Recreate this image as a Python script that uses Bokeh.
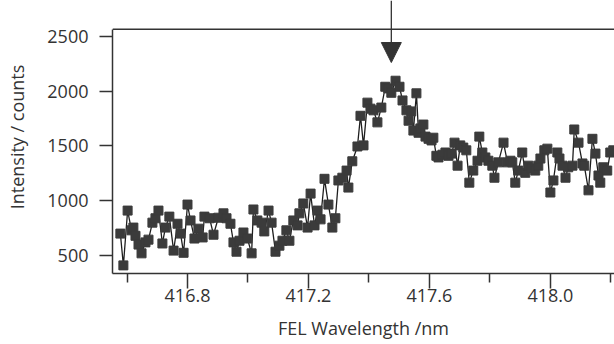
from bokeh.plotting import figure
from bokeh.models import FixedTicker, Span, Arrow, NormalHead, Range1d, ColumnDataSource
from bokeh.embed import file_html
from bokeh.resources import INLINE

# Data
wavelength_nm = [
    416.578, 416.588, 416.602, 416.615, 416.621, 416.628, 416.638, 416.648, 416.661, 416.671,
    416.684, 416.694, 416.704, 416.717, 416.727, 416.740, 416.754, 416.767, 416.777, 416.787,
    416.800, 416.810, 416.823, 416.836, 416.850, 416.856, 416.873, 416.886, 416.902, 416.919,
    416.929, 416.942, 416.952, 416.962, 416.972, 416.985, 416.998, 417.012, 417.018, 417.031,
    417.045, 417.054, 417.068, 417.078, 417.091, 417.104, 417.114, 417.127, 417.137, 417.150,
    417.164, 417.170, 417.183, 417.197, 417.207, 417.220, 417.230, 417.240, 417.253, 417.266,
    417.279, 417.289, 417.299, 417.312, 417.326, 417.332, 417.345, 417.362, 417.372, 417.382,
    417.395, 417.405, 417.415, 417.428, 417.441, 417.454, 417.464, 417.474, 417.488, 417.501,
    417.511, 417.524, 417.531, 417.540, 417.547, 417.557, 417.564, 417.570, 417.580, 417.587,
    417.597, 417.607, 417.613, 417.623, 417.630, 417.643, 417.653, 417.663, 417.673, 417.683,
    417.693, 417.702, 417.712, 417.722, 417.732, 417.745, 417.759, 417.765, 417.775, 417.785,
    417.795, 417.808, 417.815, 417.828, 417.845, 417.858, 417.868, 417.874, 417.884, 417.894,
    417.907, 417.917, 417.927, 417.937, 417.950, 417.960, 417.967, 417.980, 417.990, 418.000,
    418.010, 418.023, 418.030, 418.040, 418.050, 418.059, 418.073, 418.079, 418.093, 418.106,
    418.112, 418.126, 418.139, 418.149, 418.159, 418.165, 418.175, 418.188, 418.198, 418.208,
]
intensity_counts = [
    700, 410, 910, 730, 755, 680, 600, 520, 620, 645,
    800, 840, 910, 610, 755, 855, 545, 790, 700, 525,
    965, 820, 655, 745, 665, 855, 840, 690, 845, 885,
    840, 790, 620, 535, 635, 710, 655, 520, 920, 820,
    800, 720, 910, 800, 535, 590, 635, 730, 635, 820,
    775, 885, 975, 755, 1065, 775, 910, 830, 1200, 965,
    755, 840, 1185, 1210, 1275, 1120, 1360, 1495, 1775, 1505,
    1895, 1840, 1825, 1715, 1850, 2040, 2025, 1985, 2095, 2040,
    1915, 1825, 1730, 1815, 1640, 1980, 1620, 1660, 1695, 1585,
    1565, 1550, 1575, 1410, 1395, 1420, 1440, 1410, 1430, 1530,
    1320, 1505, 1485, 1460, 1165, 1275, 1365, 1585, 1440, 1395,
    1365, 1320, 1210, 1350, 1530, 1350, 1365, 1350, 1165, 1275,
    1440, 1255, 1320, 1295, 1275, 1320, 1385, 1460, 1475, 1075,
    1185, 1440, 1385, 1320, 1210, 1305, 1320, 1650, 1530, 1340,
    1320, 1095, 1565, 1430, 1230, 1165, 1305, 1275, 1440, 1460,
]

x_major_ticks = [416.8, 417.2, 417.6, 418.0]
x_tick_labels = ["416.8", "417.2", "417.6", "418.0"]
x_minor_ticks = [416.6, 417.0, 417.4, 417.8, 418.2]
y_major_ticks = [500, 1000, 1500, 2000, 2500]
y_tick_labels = ["500", "1000", "1500", "2000", "2500"]

peak_marker_nm = 417.474
x_label = "FEL Wavelength /nm"
y_label = "Intensity / counts"

# Layout / style
X_START, X_END = 416.552, 418.212
Y_START, Y_END = 336, 2827
FRAME_TOP_VALUE = 2564
ARROW_TIP = 2261
FONT = "Open Sans"
INK = "#333333"

p = figure(width=614, height=344, output_backend="svg", toolbar_location=None,
           x_range=Range1d(X_START, X_END), y_range=Range1d(Y_START, Y_END),
           min_border_left=112, min_border_right=0, min_border_top=0, min_border_bottom=71)
p.outline_line_color = None
p.grid.visible = False
p.background_fill_color = "white"
p.border_fill_color = "white"

# x axis
p.xaxis.ticker = FixedTicker(ticks=x_major_ticks, minor_ticks=x_minor_ticks)
p.xaxis.major_label_overrides = dict(zip(x_major_ticks, x_tick_labels))
p.xaxis.major_tick_out = 15
p.xaxis.major_tick_in = 0
p.xaxis.minor_tick_out = 9
p.xaxis.minor_tick_in = 0
p.xaxis.major_label_standoff = 0
p.xaxis.axis_label = x_label
p.xaxis.axis_label_standoff = 11

# y axis
p.yaxis.ticker = FixedTicker(ticks=y_major_ticks)
p.yaxis.major_label_overrides = dict(zip(y_major_ticks, y_tick_labels))
p.yaxis.major_tick_out = 13
p.yaxis.major_tick_in = 0
p.yaxis.minor_tick_out = 0
p.yaxis.minor_tick_in = 0
p.yaxis.major_label_standoff = 11
p.yaxis.bounds = (Y_START, FRAME_TOP_VALUE)
p.yaxis.axis_label = y_label
p.yaxis.axis_label_standoff = 15

for ax in (p.xaxis, p.yaxis):
    ax.axis_line_color = INK
    ax.axis_line_width = 1.5
    ax.major_tick_line_color = INK
    ax.major_tick_line_width = 1.5
    ax.minor_tick_line_color = INK
    ax.minor_tick_line_width = 1.5
    ax.major_label_text_font = FONT
    ax.major_label_text_font_size = "18px"
    ax.major_label_text_color = INK
    ax.axis_label_text_font = FONT
    ax.axis_label_text_font_size = "18px"
    ax.axis_label_text_font_style = "normal"
    ax.axis_label_text_color = INK

# top frame line
p.add_layout(Span(location=FRAME_TOP_VALUE, dimension="width", line_color=INK, line_width=1.5))

# data
src = ColumnDataSource(dict(x=wavelength_nm, y=intensity_counts))
p.line("x", "y", source=src, line_color="#1e1e1e", line_width=1.3)
p.scatter("x", "y", source=src, marker="square", size=9,
          fill_color="#3b3b3b", line_color="#3b3b3b")

# peak arrow
p.add_layout(Arrow(end=NormalHead(size=20, fill_color=INK, line_color=INK, line_width=1),
                   x_start=peak_marker_nm, y_start=Y_END, x_end=peak_marker_nm, y_end=ARROW_TIP,
                   line_color=INK, line_width=1.3))

open("out.html", "w").write(file_html(p, INLINE))
